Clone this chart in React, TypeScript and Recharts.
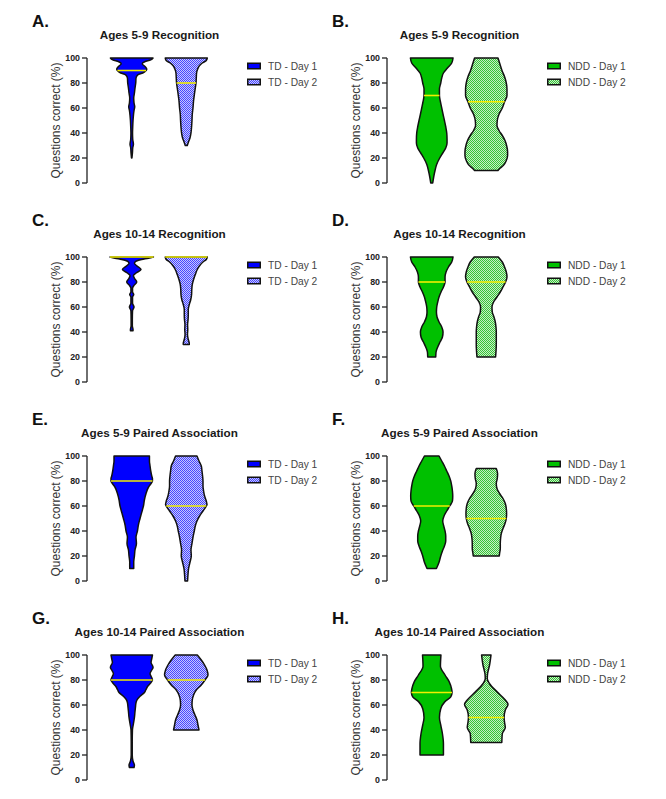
import React from "react";
import { ComposedChart, Area, XAxis, YAxis, ReferenceLine, Legend } from "recharts";

// [percent correct, violin half-width (density)]
type Profile = [number, number][];

const aDay1: Profile = [[100, 21.3], [98.5, 19], [97, 13], [95.5, 10.5], [93, 13.5], [91, 15], [90, 14.3], [88, 11], [86.5, 6], [84, 4.3], [80, 4], [76, 3.3], [72, 2.7], [68, 2], [64, 2.3], [61, 3], [58, 2.3], [54, 1.7], [50, 1.3], [45, 1], [40, 0.8], [35, 1], [31, 1.7], [28, 1], [24, 0.7], [20, 0.2]];
const aDay2: Profile = [[100, 21], [98, 20], [96, 16], [94, 13.3], [91, 11.3], [88, 10.3], [84, 10], [80, 9.7], [76, 9], [72, 8.3], [66, 7.3], [60, 6.7], [55, 6], [50, 5.7], [45, 5.3], [40, 4.7], [36, 3.7], [33, 2.3], [30, 1]];
const bDay1: Profile = [[100, 21.3], [96, 20], [92, 15.7], [88, 11.7], [84, 10], [80, 9], [75, 7.7], [70, 7.7], [65, 8.7], [60, 10], [55, 11.3], [50, 12.7], [45, 14], [40, 15], [35, 15.3], [32, 15.3], [28, 14], [24, 11], [20, 8], [15, 5], [10, 3.3], [5, 2], [0, 1]];
const bDay2: Profile = [[100, 11.7], [96, 13.3], [90, 15.7], [85, 18.3], [80, 20], [75, 20.7], [70, 20.7], [65, 18.3], [60, 16], [55, 12.7], [50, 11], [46, 10.7], [42, 12.7], [38, 16], [34, 18.7], [30, 20.3], [25, 21.3], [22, 21.3], [18, 20], [14, 17], [12, 14], [10, 11.7]];
const cDay1: Profile = [[100, 21.7], [99, 16.7], [98, 10], [96.5, 4], [95, 2.7], [93, 5], [90, 9.3], [87, 4], [85, 1.7], [83, 2.7], [80, 5], [77, 2], [75, 0.8], [72, 0.8], [70, 2], [68, 0.8], [63, 0.8], [60, 2.3], [57, 0.8], [50, 0.6], [45, 0.6], [42, 1.3], [41, 1.3]];
const cDay2: Profile = [[100, 21], [98, 20], [96, 16.7], [93, 13.3], [90, 11], [86, 9], [82, 7.3], [78, 6], [74, 5.5], [70, 5.3], [66, 4.5], [62, 3], [58, 2], [54, 2], [50, 1.8], [46, 1.3], [42, 1.5], [38, 1.2], [34, 2], [31, 3], [30, 3]];
const dDay1: Profile = [[100, 21.3], [96, 20], [92, 16.7], [88, 14.3], [84, 13.3], [80, 13.3], [76, 11.7], [72, 9.3], [68, 7.3], [64, 6], [60, 5], [56, 4.7], [52, 5.3], [48, 7.3], [44, 10], [40, 11.3], [36, 10.7], [32, 8.3], [28, 6], [24, 4.3], [20, 4]];
const dDay2: Profile = [[100, 12], [96, 16], [92, 18.3], [88, 20], [84, 20.7], [80, 19.3], [76, 16.7], [72, 14], [68, 10.7], [64, 7.3], [60, 5.7], [56, 6], [52, 7.7], [48, 9], [44, 9.7], [40, 10], [30, 10], [20, 9.3]];
const eDay1: Profile = [[100, 17.7], [96, 17.7], [92, 18.3], [88, 19], [84, 20], [82, 20.7], [80, 20.7], [78, 19.3], [75, 16.7], [70, 14.3], [65, 12.7], [60, 11.7], [55, 10], [50, 8.3], [45, 6.7], [40, 5.7], [35, 4.3], [30, 4.7], [25, 3.3], [20, 2.7], [15, 2], [10, 2]];
const eDay2: Profile = [[100, 10.7], [96, 12.7], [92, 15], [88, 15.7], [84, 16.3], [80, 16.7], [76, 16.7], [72, 17.3], [68, 18.3], [64, 20], [61, 20.7], [60, 20], [56, 16.7], [52, 13.3], [48, 10.7], [44, 9], [40, 8], [35, 6.7], [30, 5.7], [25, 4.7], [20, 5], [15, 3.7], [10, 2.3], [5, 1.7], [0, 1.3]];
const fDay1: Profile = [[100, 7.3], [96, 10], [92, 12.7], [88, 15], [84, 17.3], [80, 19], [76, 20], [72, 20.7], [68, 21], [64, 20.7], [60, 18], [56, 15], [52, 12.3], [48, 11], [44, 12], [40, 13.3], [36, 14], [32, 14], [28, 12.7], [24, 10.7], [20, 9], [15, 7.3], [10, 4.7]];
const fDay2: Profile = [[90, 10], [86, 11.3], [82, 11], [78, 10], [74, 10.7], [70, 13.3], [66, 16.7], [62, 19], [58, 20], [54, 20.3], [50, 20], [46, 18.7], [42, 16.7], [38, 15], [34, 14.3], [30, 14], [26, 14], [22, 13.3], [20, 13]];
const gDay1: Profile = [[100, 20.7], [97, 20], [94, 19.3], [91, 21], [90, 21.3], [88, 20], [85, 18.3], [83, 19.3], [80, 20.7], [78, 19.3], [75, 16], [72, 14], [70, 12.7], [67, 8.3], [65, 6], [62, 4.3], [58, 3.7], [55, 3.3], [50, 2.7], [45, 1.7], [40, 0.7], [30, 0.5], [20, 0.5], [15, 1.3], [12, 2.7], [10, 2.3]];
const gDay2: Profile = [[100, 11], [96, 15], [92, 18.3], [88, 20.7], [84, 21.7], [80, 18.7], [76, 15], [72, 10], [68, 7.3], [64, 6], [60, 5.7], [56, 6.7], [52, 8.7], [48, 10.7], [44, 11.7], [40, 12.7]];
const hDay1: Profile = [[100, 9.2], [91, 8.7], [84, 13.3], [78.5, 17.5], [73, 19.8], [70, 20.3], [66.5, 19], [62.5, 13], [57, 9], [50, 7.7], [44, 9], [37, 10.7], [29, 11.7], [20, 11.7]];
const hDay2: Profile = [[100, 4.7], [92, 3.3], [85, 1.3], [81, 1], [77, 3.3], [70.5, 10.8], [64, 19], [60.5, 21.7], [56, 19], [50, 17.8], [46, 18.3], [42, 19], [37, 16], [30, 15.5]];

const profiles: [Profile, Profile][] = [
  [aDay1, aDay2], [bDay1, bDay2], [cDay1, cDay2], [dDay1, dDay2],
  [eDay1, eDay2], [fDay1, fDay2], [gDay1, gDay2], [hDay1, hDay2],
];
const medians: [number, number][] = [[90, 80], [70, 65], [100, 100], [80, 80], [80, 60], [60, 50], [80, 80], [70, 50]];

const panelLetters = ["A.", "B.", "C.", "D.", "E.", "F.", "G.", "H."];
const panelTitles = [
  "Ages 5-9 Recognition", "Ages 5-9 Recognition",
  "Ages 10-14 Recognition", "Ages 10-14 Recognition",
  "Ages 5-9 Paired Association", "Ages 5-9 Paired Association",
  "Ages 10-14 Paired Association", "Ages 10-14 Paired Association",
];
const groups = ["TD", "NDD"];
const days = ["Day 1", "Day 2"];
const yTicks = [0, 20, 40, 60, 80, 100];

const centers = [1, 2];
const X_DOMAIN: [number, number] = [0.18, 2.82];
const WIDTH_SCALE = 1 / 54.5; // half-width -> x units

const palettes = [
  { solid: "#0000ff", dot: "#4848ff", light: "#c6c6ff" },
  { solid: "#00c000", dot: "#38c438", light: "#c6eec6" },
];
const INK = "#111";
const MEDIAN = "#f2ee00";
const FONT = "'Liberation Sans', Arial, Helvetica, sans-serif";

function widthAt(prof: Profile, pct: number): number | null {
  const hit = prof.find(([p]) => p === pct);
  return hit ? hit[1] : null;
}

function buildRows(first: Profile, second: Profile) {
  const levels = Array.from(new Set([...first, ...second].map(([p]) => p))).sort((a, b) => a - b);
  return levels.map((pct) => ({ pct, day1: widthAt(first, pct), day2: widthAt(second, pct) }));
}

function Panel({ index }: { index: number }) {
  const col = index % 2;
  const row = Math.floor(index / 2);
  const pair = profiles[index];
  const data = buildRows(pair[0], pair[1]);
  const pal = palettes[col];
  const patId = `checker-${index}`;
  const fills = [pal.solid, `url(#${patId})`];
  const keys = ["day1", "day2"] as const;
  // keep every panel on an even pixel so the 1px checker stays crisp
  const exactTop = row * 199;
  const top = Math.floor(exactTop / 2) * 2;
  const shift = exactTop - top;

  return (
    <div className="violin-panel" style={{ position: "absolute", left: col * 300, top, width: 340, height: 201 }}>
      <ComposedChart
        layout="vertical"
        width={340}
        height={201}
        data={data}
        margin={{ top: 58 + shift, right: 109, bottom: 18 - shift, left: 47 }}
      >
        <defs>
          <pattern id={patId} width={2} height={2} patternUnits="userSpaceOnUse">
            <rect width={2} height={2} fill={pal.light} />
            <rect width={1} height={1} fill={pal.dot} />
            <rect x={1} y={1} width={1} height={1} fill={pal.dot} />
          </pattern>
        </defs>
        <XAxis
          type="number"
          domain={X_DOMAIN}
          allowDataOverflow
          height={0}
          tick={false}
          tickLine={false}
          axisLine={{ stroke: "#222", strokeWidth: 1.3 }}
        />
        <YAxis
          type="number"
          dataKey="pct"
          domain={[0, 100]}
          ticks={yTicks}
          reversed
          width={40}
          tickSize={5}
          tickMargin={2}
          axisLine={{ stroke: "#222", strokeWidth: 1.3 }}
          tickLine={{ stroke: "#222", strokeWidth: 1.3 }}
          tick={{ fill: "#222", fontSize: 8.8, fontWeight: "bold", fontFamily: FONT }}
          label={{
            value: "Questions correct (%)",
            angle: -90,
            position: "insideLeft",
            offset: 9,
            fill: "#333",
            fontSize: 12,
            fontFamily: FONT,
            style: { textAnchor: "middle" },
          }}
        />
        {keys.map((key, k) => (
          <Area
            key={key}
            dataKey={(r: any) =>
              r[key] == null ? [null, null] : [centers[k] - r[key] * WIDTH_SCALE, centers[k] + r[key] * WIDTH_SCALE]
            }
            name={`${groups[col]} - ${days[k]}`}
            type="monotone"
            connectNulls
            fill={fills[k]}
            fillOpacity={1}
            stroke="none"
            isAnimationActive={false}
          />
        ))}
        {keys.map((key, k) => {
          const m = medians[index][k];
          const w = (widthAt(pair[k], m) ?? 0) * WIDTH_SCALE;
          return (
            <ReferenceLine
              key={`med-${key}`}
              segment={[{ x: centers[k] - w, y: m }, { x: centers[k] + w, y: m }]}
              stroke={MEDIAN}
              strokeWidth={1.6}
            />
          );
        })}
        <Legend
          layout="horizontal"
          verticalAlign="middle"
          align="center"
          wrapperStyle={{ left: 247, top: 58 + shift, width: 110, height: 32 }}
          content={() => (
            <div style={{ fontFamily: FONT }}>
              {days.map((d, k) => (
                <div key={d} style={{ display: "flex", alignItems: "center", height: 16 }}>
                  <svg width={14} height={8} style={{ display: "block" }}>
                    <rect x={0.75} y={1.25} width={12.5} height={5.5} fill={fills[k]} stroke={INK} strokeWidth={1.5} />
                  </svg>
                  <span style={{ marginLeft: 7, fontSize: 10.2, color: "#444", whiteSpace: "nowrap" }}>
                    {`${groups[col]} - ${d}`}
                  </span>
                </div>
              ))}
            </div>
          )}
        />
      </ComposedChart>
      <div
        style={{
          position: "absolute", left: 32, top: 13 + shift, fontFamily: FONT, fontWeight: "bold",
          fontSize: 17, lineHeight: "17px", color: "#111",
        }}
      >
        {panelLetters[index]}
      </div>
      <div
        style={{
          position: "absolute", left: 39.5, width: 240, top: 28.5 + shift, textAlign: "center", fontFamily: FONT,
          fontWeight: "bold", fontSize: 11.7, lineHeight: "12px", color: "#1a1a1a", whiteSpace: "nowrap",
        }}
      >
        {panelTitles[index]}
      </div>
    </div>
  );
}

export default function App() {
  return (
    <div style={{ position: "absolute", left: 0, top: 0, width: 666, height: 799, background: "#fff", overflow: "hidden" }}>
      <style>{`.violin-panel .recharts-area-area { stroke: ${INK}; stroke-width: 1.5px; stroke-linejoin: round; }`}</style>
      {panelLetters.map((_, i) => (
        <Panel key={i} index={i} />
      ))}
    </div>
  );
}
